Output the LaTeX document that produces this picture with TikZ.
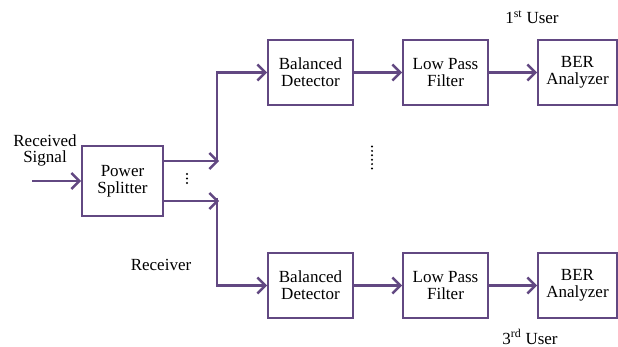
\documentclass[tikz,border=0pt]{standalone}
\usepackage{xcolor}
\usepackage{fontspec}
\setmainfont{Liberation Serif}
\usepackage{tikz}
\usetikzlibrary{arrows.meta,positioning}

\definecolor{wire}{RGB}{98,72,130}

\begin{document}
\begin{tikzpicture}[x=1pt,y=-1pt,node distance=135pt,on grid,
		>={Straight Barb[length=8pt,width=16pt]}]
		\tikzstyle{block}=[draw=wire,line width=1.8pt,minimum width=85pt,minimum height=65pt,
			align=center,font=\fontsize{17}{17}\selectfont]
		\tikzstyle{flow}=[draw=wire,line width=2.4pt]
		\tikzstyle{lbl}=[align=center,font=\fontsize{17}{16}\selectfont]
		\useasboundingbox (0,0) rectangle (618,347);
		
		\node[block,minimum width=81pt,minimum height=70pt] (split) at (122.5,181) {Power\\Splitter};
		
		\node[block] (bd_1) at (310.5,72.5)              {Balanced\\Detector};
		\node[block] (lpf_1)  [right of=bd_1]             {Low Pass\\Filter};
		\node[block,minimum width=79pt] (ber_1) [right=132pt of lpf_1] {BER\\Analyzer};
		
		\node[block] (bd_2) at (310.5,285.5)             {Balanced\\Detector};
		\node[block] (lpf_2)  [right of=bd_2]             {Low Pass\\Filter};
		\node[block,minimum width=79pt] (ber_2) [right=132pt of lpf_2] {BER\\Analyzer};
		
		% labels
		\node[lbl] (rx_in) at (45,150) {Received\\Signal};
		\node[lbl] (rx)    at (161,265) {Receiver};
		\node[lbl] (u_1)   at (532,17)  {1\textsuperscript{st} User};
		\node[lbl] (u_3)   at (530,337) {3\textsuperscript{rd} User};
		
		% branches
		\coordinate (in) at (32,181);
		\coordinate (o_1) at (163,161);
		\coordinate (j_1) at (219,161);
		\coordinate (t_1) at (217,162);
		\coordinate (o_2) at (163,201);
		\coordinate (j_2) at (219,201);
		\coordinate (t_2) at (217,198);
		
		\draw[flow,->] (in) -- (split);
		\draw[flow,->] (o_1) -- (j_1);
		\draw[flow,->] (o_2) -- (j_2);
		\draw[flow,->] (t_1) |- (bd_1);
		\draw[flow,->] (t_2) |- (bd_2);
		\draw[flow,->] (bd_1) -- (lpf_1);
		\draw[flow,->] (lpf_1) -- (ber_1);
		\draw[flow,->] (bd_2) -- (lpf_2);
		\draw[flow,->] (lpf_2) -- (ber_2);
		
		% dots
		\foreach \k in {0,1,2}
		\fill (187,174+4.5*\k) circle (1.1pt);
		\foreach \k in {0,...,5}
		\fill (372,146.5+4.4*\k) circle (1.1pt);
		
	\end{tikzpicture}
\end{document}
